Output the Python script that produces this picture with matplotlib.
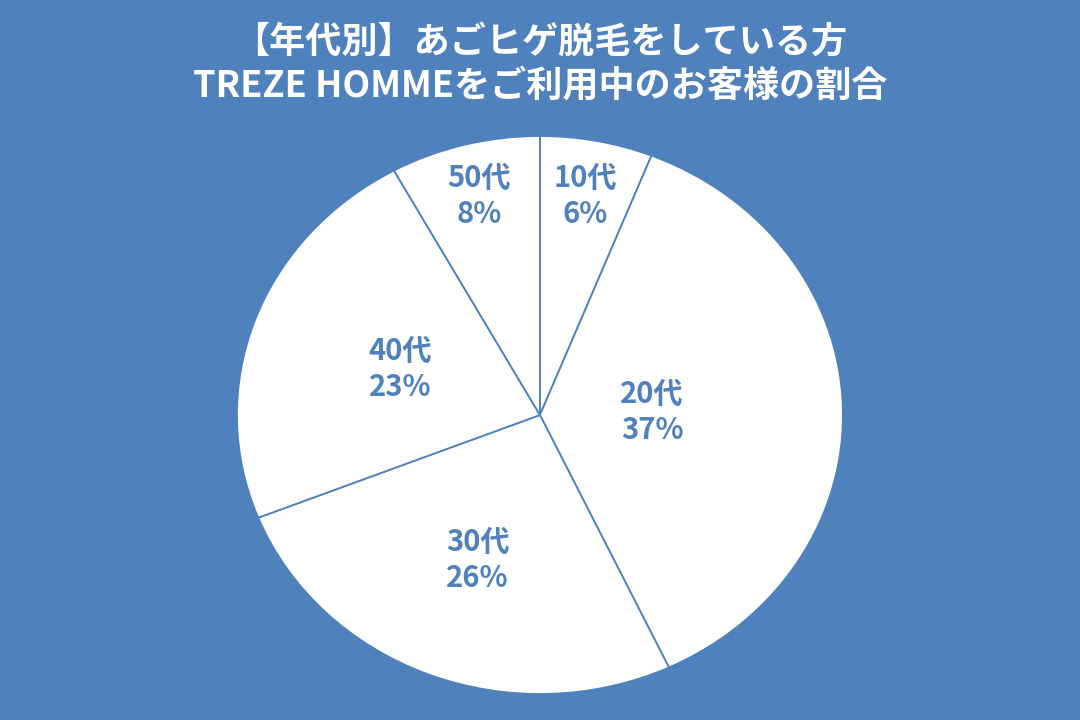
import numpy as np
import matplotlib.pyplot as plt

plt.rcParams['font.family'] = ['Noto Sans CJK JP', 'DejaVu Sans']

ages = ['10代', '20代', '30代', '40代', '50代']
shares = [6, 37, 26, 23, 8]
label_dist = [0.80, 0.37, 0.56, 0.49, 0.81]

title1 = '【年代別】あごヒゲ脱毛をしている方'
title2 = 'TREZE HOMMEをご利用中のお客様の割合'

blue = '#4F81BD'

fig = plt.figure(figsize=(10.8, 7.2), dpi=100, facecolor=blue)
ax = fig.add_axes([0.2194, 0.0361, 0.5611, 0.775])
ax.set_facecolor(blue)

wedges, _ = ax.pie(shares, startangle=90, counterclock=False,
                   colors=['white'] * len(shares),
                   wedgeprops=dict(edgecolor=blue, linewidth=1.3))
ax.set_aspect('auto')
ax.set_xlim(-1, 1)
ax.set_ylim(-1, 1)
ax.axis('off')

for w, age, s, d in zip(wedges, ages, shares, label_dist):
    mid = np.deg2rad((w.theta1 + w.theta2) / 2)
    ax.text(d * np.cos(mid), d * np.sin(mid), f'{age}\n{s}%',
            ha='center', va='center', color=blue, fontsize=21,
            fontweight='bold', linespacing=1.25)

fig.text(0.5, 1 - 42 / 720, title1, ha='center', va='center',
         color='white', fontsize=26, fontweight='bold')
fig.text(0.5, 1 - 86 / 720, title2, ha='center', va='center',
         color='white', fontsize=26, fontweight='bold')

fig.savefig('out.png', dpi=100, facecolor=blue)
